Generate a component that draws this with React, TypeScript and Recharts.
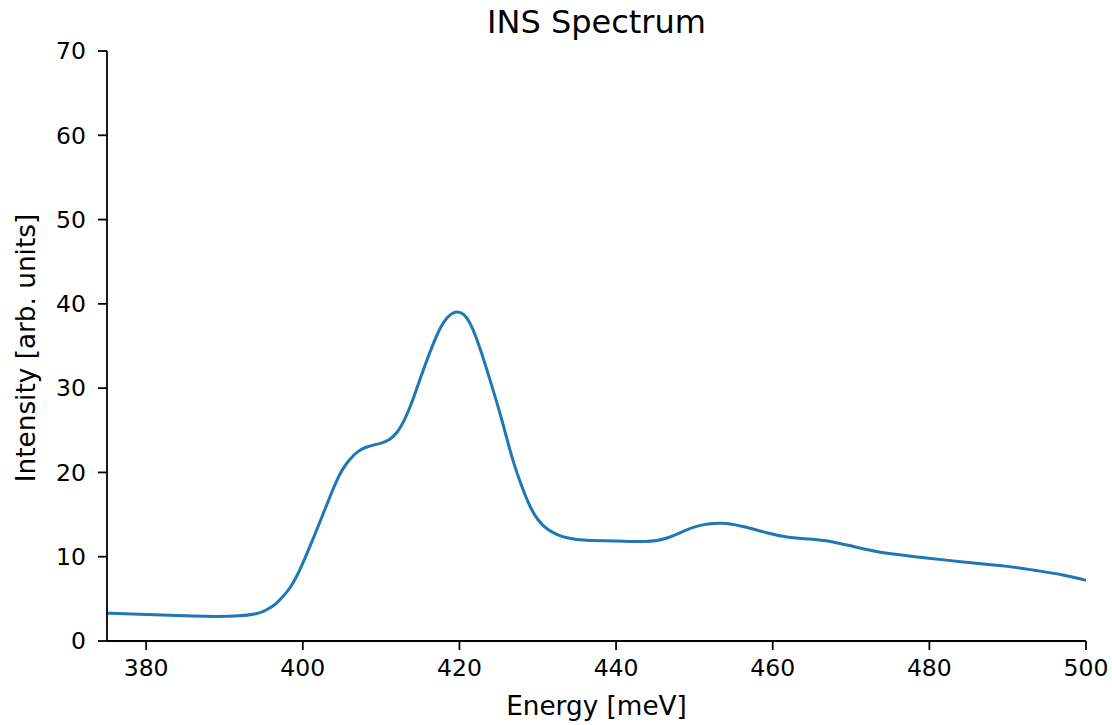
import React from "react";
import { LineChart, Line, XAxis, YAxis, Label } from "recharts";

const energy = [375, 378, 382, 386, 389, 392, 394, 395, 395.8, 396.7, 397.5, 398.4, 399.2, 400, 400.9, 401.7, 402.6, 403.5, 404.3, 405, 406, 407, 408, 409, 410, 411, 412, 413, 414, 415, 416, 417, 418, 419, 419.7, 420.5, 421.4, 422.6, 423.9, 425.2, 426, 426.9, 428, 429, 430, 431.2, 432.5, 433.7, 436, 440, 444, 446.5, 449, 450.7, 453.5, 456.3, 459.3, 461.8, 464.5, 467.3, 470.3, 474.1, 478.4, 484.8, 490, 493.3, 497, 500];
const intensity = [3.3, 3.2, 3.1, 2.95, 2.9, 2.95, 3.2, 3.5, 3.9, 4.5, 5.3, 6.3, 7.6, 9.2, 11.2, 13.0, 15.1, 17.2, 19.0, 20.3, 21.6, 22.5, 23.0, 23.25, 23.45, 23.8, 24.6, 26.2, 28.4, 31.2, 33.7, 36.1, 38.0, 38.9, 39.1, 38.9, 37.8, 34.9, 31.0, 27.0, 24.2, 21.1, 18.2, 15.9, 14.3, 13.2, 12.6, 12.2, 11.9, 11.9, 11.7, 12.1, 13.2, 13.8, 14.1, 13.6, 12.8, 12.3, 12.1, 11.9, 11.2, 10.4, 10.0, 9.3, 8.9, 8.4, 7.9, 7.2];
const xTicks = [380, 400, 420, 440, 460, 480, 500];
const yTicks = [0, 10, 20, 30, 40, 50, 60, 70];
const title = "INS Spectrum";
const xLabel = "Energy [meV]";
const yLabel = "Intensity [arb. units]";

const data = energy.map((e, i) => ({ e, v: intensity[i] }));

const FONT = "DejaVu Sans, sans-serif";
const tickStyle = { fontSize: 23.5, fill: "#000", fontFamily: FONT };
const AXIS = { stroke: "#000", strokeWidth: 1.8 };

const XLabelContent = (props: any) => {
  const vb = props.viewBox || {};
  return (
    <text
      x={vb.x + vb.width / 2}
      y={vb.y + 74}
      textAnchor="middle"
      fontSize={26.3}
      fontFamily={FONT}
      fill="#000"
    >
      {xLabel}
    </text>
  );
};

const YLabelContent = (props: any) => {
  const vb = props.viewBox || {};
  const cx = vb.x + 35;
  const cy = vb.y + vb.height / 2 + 2;
  return (
    <text
      x={cx}
      y={cy}
      textAnchor="middle"
      fontSize={26.3}
      fontFamily={FONT}
      fill="#000"
      transform={`rotate(-90, ${cx}, ${cy})`}
    >
      {yLabel}
    </text>
  );
};

export default function App() {
  return (
    <div style={{ position: "absolute", left: 0, top: 0, width: 1112, height: 725, background: "#fff" }}>
      <div
        style={{
          position: "absolute",
          left: 107,
          width: 979,
          top: 3,
          textAlign: "center",
          fontFamily: FONT,
          fontSize: 32,
          color: "#000",
          whiteSpace: "nowrap",
        }}
      >
        {title}
      </div>
      <LineChart
        width={1112}
        height={725}
        data={data}
        margin={{ top: 51, right: 26, bottom: 0, left: 0 }}
      >
        <XAxis
          xAxisId="b"
          dataKey="e"
          type="number"
          domain={[375, 500]}
          ticks={xTicks}
          allowDataOverflow
          height={84}
          axisLine={AXIS}
          tickLine={AXIS}
          tickSize={9}
          tickMargin={9}
          tick={tickStyle}
        >
          <Label content={XLabelContent} />
        </XAxis>
        <XAxis
          xAxisId="t"
          dataKey="e"
          type="number"
          orientation="top"
          domain={[375, 500]}
          allowDataOverflow
          height={0}
          tick={false}
          tickLine={false}
          axisLine={AXIS}
        />
        <YAxis
          yAxisId="l"
          type="number"
          domain={[0, 70]}
          ticks={yTicks}
          width={107}
          axisLine={AXIS}
          tickLine={AXIS}
          tickSize={9}
          tickMargin={12}
          tick={tickStyle}
        >
          <Label content={YLabelContent} />
        </YAxis>
        <YAxis
          yAxisId="r"
          orientation="right"
          type="number"
          domain={[0, 70]}
          width={0}
          tick={false}
          tickLine={false}
          axisLine={AXIS}
        />
        <Line
          xAxisId="b"
          yAxisId="l"
          type="basis"
          dataKey="v"
          stroke="#1f77b4"
          strokeWidth={3}
          dot={false}
          isAnimationActive={false}
        />
      </LineChart>
    </div>
  );
}
